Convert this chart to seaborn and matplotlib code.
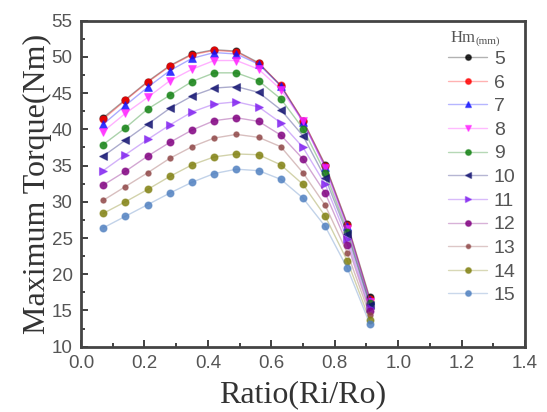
import matplotlib
matplotlib.use("Agg")
import matplotlib.pyplot as plt
import seaborn as sns
import pandas as pd
from matplotlib.colors import to_rgba
from matplotlib.lines import Line2D
from matplotlib.ticker import MultipleLocator

ratio = [0.07, 0.14, 0.21, 0.28, 0.35, 0.42, 0.49, 0.56, 0.63, 0.70, 0.77, 0.84, 0.91]
hm_levels = ["5", "6", "7", "8", "9", "10", "11", "12", "13", "14", "15"]
hm5 = [41.6, 44.1, 46.6, 48.8, 50.4, 51.0, 50.8, 49.2, 46.0, 41.2, 35.1, 26.9, 16.8]
hm6 = [41.4, 44.0, 46.5, 48.7, 50.3, 50.9, 50.7, 49.1, 46.1, 41.2, 35.0, 26.8, 16.6]
hm7 = [40.7, 43.3, 45.8, 48.1, 49.8, 50.6, 50.4, 49.0, 46.0, 41.0, 34.8, 26.6, 16.4]
hm8 = [39.7, 42.2, 44.4, 46.7, 48.3, 49.5, 49.5, 48.3, 45.5, 41.1, 34.6, 26.3, 16.2]
hm9 = [37.9, 40.2, 42.8, 44.7, 46.6, 47.8, 47.8, 46.7, 44.2, 40.1, 34.0, 25.9, 16.0]
hm10 = [36.3, 38.5, 40.7, 42.9, 44.6, 45.7, 45.9, 45.1, 42.7, 39.1, 33.3, 25.5, 15.8]
hm11 = [34.3, 36.5, 38.6, 40.6, 42.4, 43.5, 43.8, 43.1, 40.9, 37.5, 32.4, 24.8, 15.3]
hm12 = [32.3, 34.2, 36.3, 38.2, 39.9, 41.2, 41.6, 41.1, 39.2, 35.9, 31.2, 24.1, 14.9]
hm13 = [30.2, 32.1, 34.0, 36.0, 37.6, 38.8, 39.3, 38.9, 37.6, 34.0, 29.5, 22.9, 14.4]
hm14 = [28.4, 30.0, 31.7, 33.5, 35.1, 36.2, 36.6, 36.5, 35.1, 32.4, 28.0, 21.8, 13.7]
hm15 = [26.4, 28.0, 29.6, 31.2, 32.7, 33.9, 34.5, 34.3, 33.1, 30.5, 26.6, 20.8, 13.2]
series = [hm5, hm6, hm7, hm8, hm9, hm10, hm11, hm12, hm13, hm14, hm15]
x_ticks = [0.0, 0.2, 0.4, 0.6, 0.8, 1.0, 1.2, 1.4]
y_ticks = [10, 15, 20, 25, 30, 35, 40, 45, 50, 55]

colors = ["#000000", "#ff0000", "#1010ff", "#ff20ff", "#108010", "#101070",
          "#8020f0", "#800080", "#904848", "#808010", "#5080c0"]
markers = ["o", "o", "^", "v", "o", "<", ">", "o", "o", "o", "o"]
msizes = [5.2, 5.2, 5.2, 5.2, 5.2, 5.2, 5.2, 5.2, 4.0, 5.2, 5.2]

rows = []
for lvl, vals in zip(hm_levels, series):
    for r, v in zip(ratio, vals):
        rows.append({"Ratio": r, "Torque": v, "Hm": lvl})
df = pd.DataFrame(rows)

sns.set_style("white")
fig = plt.figure(figsize=(5.47, 4.12), dpi=100)
ax = fig.add_axes([0.148, 0.1585, 0.812, 0.7913])

sns.lineplot(data=df, x="Ratio", y="Torque", hue="Hm", style="Hm",
             hue_order=hm_levels, style_order=hm_levels,
             palette=dict(zip(hm_levels, colors)),
             markers=dict(zip(hm_levels, markers)), dashes=False,
             legend=False, ax=ax, linewidth=1.0, sort=False)

handles = []
for line, c, m, ms in zip(ax.lines, colors, markers, msizes):
    line.set_color(to_rgba(c, 0.35))
    line.set_markerfacecolor(to_rgba(c, 0.85))
    line.set_markeredgecolor(to_rgba(c, 0.45))
    line.set_markeredgewidth(0.8)
    line.set_markersize(ms)
    handles.append(Line2D([], [], color=to_rgba(c, 0.3), lw=1.0, marker=m,
                          markersize=ms * 0.8, markerfacecolor=to_rgba(c, 0.85),
                          markeredgecolor=to_rgba(c, 0.45)))

ax.set_xlim(0, 1.4)
ax.set_ylim(10, 55)
ax.set_xticks(x_ticks)
ax.set_xticklabels([f"{t:.1f}" for t in x_ticks])
ax.set_yticks(y_ticks)
ax.xaxis.set_minor_locator(MultipleLocator(0.1))
ax.yaxis.set_minor_locator(MultipleLocator(2.5))
ax.tick_params(which="both", direction="in", top=False, right=False,
               bottom=True, left=True, width=1.3, color="#333333")
ax.tick_params(which="major", length=5, labelsize=13.5, labelcolor="#555555")
ax.tick_params(which="minor", length=3)
ax.tick_params(axis="y", which="major", pad=6)
ax.tick_params(axis="x", which="major", pad=6)
for lab in ax.get_xticklabels() + ax.get_yticklabels():
    lab.set_fontfamily("Liberation Sans")
for s in ax.spines.values():
    s.set_linewidth(2.0)
    s.set_color("#444444")

ax.set_xlabel("Ratio(Ri/Ro)", fontfamily="Liberation Serif", fontsize=23,
              color="#333333", labelpad=6)
ax.set_ylabel("Maximum Torque(Nm)", fontfamily="Liberation Serif", fontsize=23,
              color="#333333", labelpad=0)

leg = ax.legend(handles, hm_levels, loc="upper right",
                bbox_to_anchor=(1.005, 0.945), frameon=False,
                prop={"family": "Liberation Sans", "size": 14},
                labelcolor="#555555", handlelength=2.0, handletextpad=0.35,
                labelspacing=0.31, borderaxespad=0.2)

t1 = ax.text(0.833, 0.935, "Hm", transform=ax.transAxes,
             fontfamily="Liberation Serif", fontsize=12, color="#555555",
             va="baseline")
ax.annotate("(mm)", xy=(1, 0), xycoords=t1, va="bottom",
            fontfamily="Liberation Serif", fontsize=8, color="#555555")

fig.savefig("out.png", dpi=100)
